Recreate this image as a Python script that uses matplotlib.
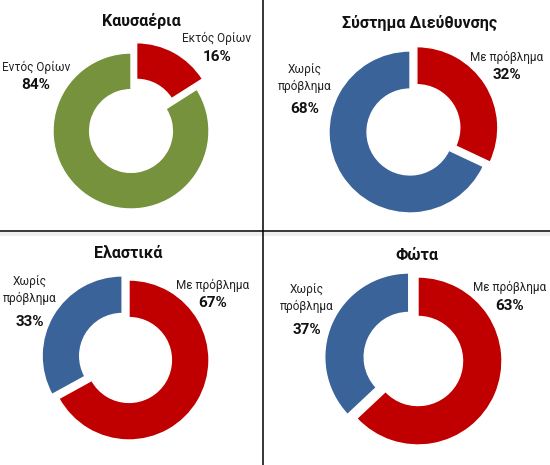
import matplotlib.pyplot as plt
from matplotlib.lines import Line2D
from matplotlib.patches import Rectangle

plt.rcParams['font.family'] = ['Roboto', 'DejaVu Sans']

# Data
titles = ['Καυσαέρια', 'Σύστημα Διεύθυνσης', 'Ελαστικά', 'Φώτα']
labels = [
    ['Εκτός Ορίων', 'Εντός Ορίων'],
    ['Με πρόβλημα', 'Χωρίς\nπρόβλημα'],
    ['Με πρόβλημα', 'Χωρίς\nπρόβλημα'],
    ['Με πρόβλημα', 'Χωρίς\nπρόβλημα'],
]
values = [
    [16, 84],
    [32, 68],
    [67, 33],
    [63, 37],
]
colors = [
    ['#C00000', '#76923C'],
    ['#C00000', '#3A639A'],
    ['#C00000', '#3A639A'],
    ['#C00000', '#3A639A'],
]
explode = [
    [0.15, 0],
    [0.10, 0],
    [0, 0.10],
    [0, 0.12],
]

W, H = 550, 465
fig = plt.figure(figsize=(5.5, 4.65), dpi=100)

# layout in pixels (from top-left): donut centre, radius, title pos, label pos
centres = [(131, 131, 78), (410, 132, 81), (129, 360, 80), (418, 361, 84)]
title_pos = [(141, 21), (420, 23), (128, 253), (417, 255)]
label_pos = [
    [(217, 38), (36, 67)],
    [(507, 57), (305, 78)],
    [(213, 285), (30, 290)],
    [(510, 287), (307, 298)],
]
pct_gap = [[19, 18], [18, 31], [18, 32], [19, 32]]

span = 1.45
for i in range(4):
    cx, cy, r = centres[i]
    ax = fig.add_axes([(cx - r * span) / W, (H - cy - r * span) / H,
                       2 * r * span / W, 2 * r * span / H])
    ax.pie(values[i], colors=colors[i], startangle=90, counterclock=False,
           explode=explode[i],
           wedgeprops=dict(width=0.47, edgecolor='white', linewidth=1))
    ax.set_xlim(-span, span)
    ax.set_ylim(-span, span)
    ax.set_aspect('equal')
    ax.axis('off')

    tx, ty = title_pos[i]
    fig.text(tx / W, 1 - ty / H, titles[i], ha='center', va='center',
             fontsize=11.5, fontweight='bold', color='#111111')
    for j in range(2):
        lx, ly = label_pos[i][j]
        fig.text(lx / W, 1 - ly / H, labels[i][j], ha='center', va='center',
                 fontsize=8.5, color='#222222', linespacing=1.35)
        fig.text(lx / W, 1 - (ly + pct_gap[i][j]) / H, f'{values[i][j]}%',
                 ha='center', va='center', fontsize=11, fontweight='bold',
                 color='#111111')

# panel dividers
fig.add_artist(Rectangle((0, 1 - 236 / H), 1, 4 / H, transform=fig.transFigure,
                         color='#EEEEEE', lw=0))
fig.add_artist(Line2D([263 / W, 263 / W], [0, 1], color='black', lw=1.1))
fig.add_artist(Line2D([0, 1], [1 - 231.5 / H, 1 - 231.5 / H], color='black', lw=1.1))

fig.savefig('out.png', dpi=100)
